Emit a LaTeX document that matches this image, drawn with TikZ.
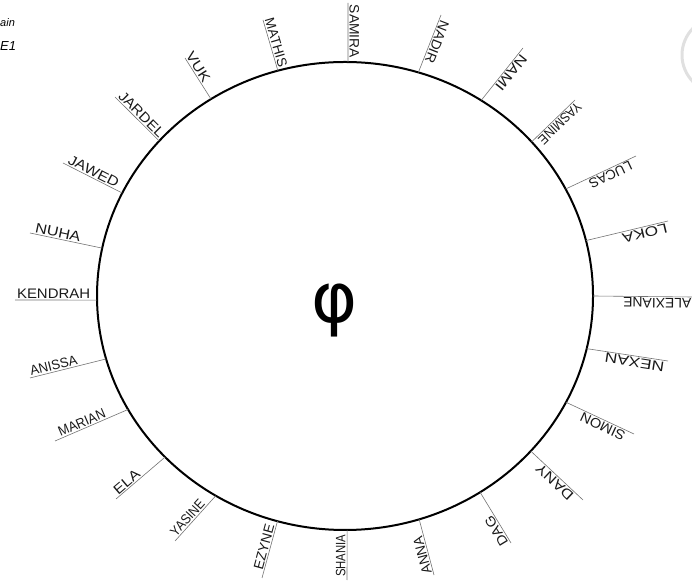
\documentclass[tikz,border=0pt]{standalone}
\usepackage{fontspec}
\usepackage{graphicx}
\setmainfont{Liberation Sans}
\newfontfamily\phifont{DejaVu Sans}
\usetikzlibrary{calc}
\newcommand\namelab[7]{%
  \coordinate (p#1) at ($(c)+(#2:248 and 234)$);
  \coordinate (q#1) at (#3,{580-#4});
  \draw[tick] (q#1) -- node[lab,pos=#5] (t#1) {\resizebox{#6pt}{9.5pt}{#7}} (p#1);
}
\begin{document}
\begin{tikzpicture}[x=1pt,y=1pt,
  ring/.style={line width=2pt, black},
  tick/.style={line width=0.6pt, black!55},
  lab/.style={sloped, allow upside down, anchor=south, inner sep=1.2pt, text=black!90}]
\useasboundingbox (0,0) rectangle (692,580);
\clip (0,0) rectangle (692,580);
\coordinate (c) at (345,284);
\draw[black!12, line width=3pt] (720,525) circle [radius=38];
\draw[ring] (c) ellipse [x radius=248, y radius=234];
\node[font=\phifont\fontsize{70}{70}\selectfont, inner sep=0pt] (phi) at (335,269) {φ};
\namelab{1}{89.3}{348}{3}{0.48}{53}{SAMIRA}
\namelab{2}{72.8}{441}{15}{0.43}{44}{NADIR}
\namelab{3}{56.7}{523}{48}{0.4}{42}{NAMI}
\namelab{4}{41.2}{575}{100}{0.45}{54}{YASMINE}
\namelab{5}{27.2}{636}{156}{0.4}{46}{LUCAS}
\namelab{6}{13.7}{668}{221}{0.3}{46}{LOKA}
\namelab{7}{0}{692}{297}{0.35}{68}{ALEXIANE}
\namelab{8}{-13}{668}{361}{0.4}{60}{NEXAN}
\namelab{9}{-27}{634}{434}{0.42}{48}{SIMON}
\namelab{10}{-41.5}{583}{500}{0.46}{46}{DANY}
\namelab{11}{-57}{511}{543}{0.3}{32}{DAG}
\namelab{12}{-72.6}{434}{575}{0.38}{38}{ANNA}
\namelab{13}{-89.5}{347}{580}{0.48}{42}{SHANIA}
\namelab{14}{-105.8}{262}{578}{0.52}{46}{EZYNE}
\namelab{15}{238.6}{175}{541}{0.42}{44}{YASINE}
\namelab{16}{223.5}{116}{499}{0.3}{30}{ELA}
\namelab{17}{209}{55}{441}{0.4}{50}{MARIAN}
\namelab{18}{195.6}{30}{378}{0.33}{48}{ANISSA}
\namelab{19}{181}{15}{300}{0.47}{73}{KENDRAH}
\namelab{20}{168.2}{30}{233}{0.37}{46}{NUHA}
\namelab{21}{153.9}{63}{163}{0.47}{55}{JAWED}
\namelab{22}{138.5}{115}{97}{0.5}{58}{JARDEL}
\namelab{23}{122.7}{185}{58}{0.3}{33}{VUK}
\namelab{24}{105.7}{263}{20}{0.48}{50}{MATHIS}
\node[anchor=west, inner sep=0pt, font=\itshape\fontsize{11}{11}\selectfont] (frag1) at (0,557) {ain};
\node[anchor=west, inner sep=0pt, font=\itshape\fontsize{13}{13}\selectfont] (frag2) at (0,534) {E1};
\end{tikzpicture}
\end{document}
